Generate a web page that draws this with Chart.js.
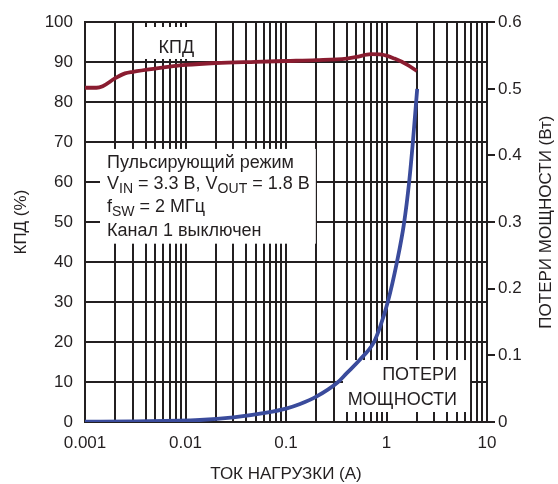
<!DOCTYPE html>
<html><head><meta charset="utf-8">
<script src="https://cdn.jsdelivr.net/npm/chart.js@4"></script>
<style>html,body{margin:0;padding:0;background:#fff}#c{display:block}</style>
</head><body><canvas id="c" width="558" height="484"></canvas>
<script>
// ---- data ----
const effCurrent = [0.001, 0.0013, 0.0015, 0.002, 0.0025, 0.003, 0.005, 0.01, 0.02, 0.05, 0.1, 0.2, 0.4, 0.5, 0.7, 0.9, 1.2, 1.6, 2.0];
const effValues  = [83.6, 83.6, 84.0, 86.0, 87.2, 87.6, 88.4, 89.3, 89.8, 90.1, 90.3, 90.5, 90.9, 91.3, 92.0, 91.9, 90.9, 89.4, 87.8];
const lossCurrent = [0.001, 0.003, 0.0139, 0.03, 0.064, 0.102, 0.138, 0.2, 0.33, 0.4, 0.54, 0.75, 0.86, 1.03, 1.27, 1.49, 1.68, 1.83, 2.02];
const lossValues  = [0.0005, 0.001, 0.003, 0.007, 0.014, 0.0205, 0.027, 0.038, 0.060, 0.073, 0.093, 0.120, 0.142, 0.180, 0.240, 0.297, 0.36, 0.42, 0.5];
const xTickLabels = ['0.001', '0.01', '0.1', '1', '10'];
const xDecades = [0.001, 0.01, 0.1, 1, 10];
const yLeftTicks = [0, 10, 20, 30, 40, 50, 60, 70, 80, 90, 100];
const yRightTicks = [0, 0.1, 0.2, 0.3, 0.4, 0.5, 0.6];

const INK = '#231f20';
const FONT = "'Liberation Sans', Arial, sans-serif";

function xyPairs(xs, ys) { return xs.map((x, i) => ({x: x, y: ys[i]})); }

function drawRuns(ctx, x, y, runs, size, align) {
  let total = 0;
  const parts = runs.map(r => {
    const s = r.sub ? size * 0.78 : size;
    ctx.font = s + 'px ' + FONT;
    const w = ctx.measureText(r.t).width;
    total += w;
    return {t: r.t, s: s, w: w, sub: r.sub};
  });
  let cx = align === 'right' ? x - total : (align === 'center' ? x - total / 2 : x);
  ctx.textAlign = 'left';
  ctx.textBaseline = 'alphabetic';
  parts.forEach(p => {
    ctx.font = p.s + 'px ' + FONT;
    ctx.fillText(p.t, cx, y + (p.sub ? size * 0.22 : 0));
    cx += p.w;
  });
}

const boxesPlugin = {
  id: 'boxes',
  beforeDatasetsDraw(chart) {
    const ctx = chart.ctx;
    const xs = chart.scales.x, yl = chart.scales.yL;
    function rect(x0, x1, y0, y1) {
      const px0 = xs.getPixelForValue(x0), px1 = xs.getPixelForValue(x1);
      const py0 = yl.getPixelForValue(y0), py1 = yl.getPixelForValue(y1);
      ctx.fillStyle = '#fff';
      ctx.fillRect(px0, py0, px1 - px0, py1 - py0);
      return {l: px0, r: px1, t: py0, b: py1};
    }
    ctx.save();
    // КПД label box
    const b1 = rect(0.0035, 0.013, 98.8, 90.8);
    ctx.fillStyle = INK;
    drawRuns(ctx, (b1.l + b1.r) / 2 + 8, b1.t + 26, [{t: 'КПД'}], 18, 'center');
    // conditions box
    const b2 = rect(0.00141, 0.198, 68.3, 44.6);
    ctx.fillStyle = INK;
    const lx = b2.l + 7, ly = b2.t + 19;
    drawRuns(ctx, lx, ly, [{t: 'Пульсирующий режим'}], 18, 'left');
    drawRuns(ctx, lx, ly + 21, [{t: 'V'}, {t: 'IN', sub: true}, {t: ' = 3.3 В, V'}, {t: 'OUT', sub: true}, {t: ' = 1.8 В'}], 18, 'left');
    drawRuns(ctx, lx, ly + 44, [{t: 'f'}, {t: 'SW', sub: true}, {t: ' = 2 МГц'}], 18, 'left');
    drawRuns(ctx, lx, ly + 68, [{t: 'Канал 1 выключен'}], 18, 'left');
    // power loss label box
    const b3 = rect(0.369, 6.78, 15.5, 2.5);
    ctx.fillStyle = INK;
    drawRuns(ctx, b3.r - 13, b3.t + 20, [{t: 'ПОТЕРИ'}], 18, 'right');
    drawRuns(ctx, b3.r - 13, b3.t + 45, [{t: 'МОЩНОСТИ'}], 18, 'right');
    ctx.restore();
  },
  afterDraw(chart) {
    const ctx = chart.ctx, a = chart.chartArea;
    ctx.save();
    ctx.fillStyle = INK;
    ctx.font = '17px ' + FONT;
    ctx.textAlign = 'center';
    ctx.textBaseline = 'alphabetic';
    ctx.fillText('ТОК НАГРУЗКИ (А)', (a.left + a.right) / 2, 479);
    ctx.translate(26, (a.top + a.bottom) / 2);
    ctx.rotate(-Math.PI / 2);
    ctx.fillText('КПД (%)', 0, 0);
    ctx.restore();
    ctx.save();
    ctx.fillStyle = INK;
    ctx.font = '17px ' + FONT;
    ctx.textAlign = 'center';
    ctx.translate(551, (a.top + a.bottom) / 2);
    ctx.rotate(-Math.PI / 2);
    ctx.fillText('ПОТЕРИ МОЩНОСТИ (Вт)', 0, 0);
    ctx.restore();
  }
};

const gridCommon = {color: INK, lineWidth: 2};

new Chart(document.getElementById('c'), {
  type: 'line',
  data: {
    datasets: [
      {label: 'КПД', data: xyPairs(effCurrent, effValues), yAxisID: 'yL',
       borderColor: '#8a1c30', borderWidth: 3.8, pointRadius: 0, cubicInterpolationMode: 'monotone', fill: false},
      {label: 'Потери', data: xyPairs(lossCurrent, lossValues), yAxisID: 'yR',
       borderColor: '#3a4b9c', borderWidth: 3.8, pointRadius: 0, cubicInterpolationMode: 'monotone', fill: false}
    ]
  },
  options: {
    responsive: false,
    animation: false,
    devicePixelRatio: 1,
    layout: {padding: {top: 21, left: 0, right: 0, bottom: 0}},
    plugins: {legend: {display: false}, tooltip: {enabled: false}},
    scales: {
      x: {
        type: 'logarithmic', position: 'bottom', min: 0.001, max: 10,
        afterBuildTicks(scale) {
          const t = [];
          for (let d = 0; d < xDecades.length - 1; d++) {
            for (let m = 1; m <= 9; m++) t.push({value: xDecades[d] * m});
          }
          t.push({value: xDecades[xDecades.length - 1]});
          scale.ticks = t;
        },
        afterFit(scale) { scale.height = 62; },
        grid: Object.assign({drawTicks: false}, gridCommon),
        border: {display: true, color: INK, width: 2},
        ticks: {
          autoSkip: false, maxRotation: 0, padding: 11, color: INK,
          font: {family: FONT, size: 17},
          callback(value) {
            const i = xDecades.findIndex(d => Math.abs(value / d - 1) < 1e-6);
            return i >= 0 ? xTickLabels[i] : '';
          }
        }
      },
      yL: {
        type: 'linear', position: 'left', min: 0, max: 100,
        afterBuildTicks(scale) { scale.ticks = yLeftTicks.map(v => ({value: v})); },
        afterFit(scale) { scale.width = 85; },
        grid: Object.assign({drawTicks: false}, gridCommon),
        border: {display: true, color: INK, width: 2},
        ticks: {padding: 12, color: INK, font: {family: FONT, size: 17}}
      },
      yR: {
        type: 'linear', position: 'right', min: 0, max: 0.6,
        afterBuildTicks(scale) { scale.ticks = yRightTicks.map(v => ({value: v})); },
        afterFit(scale) { scale.width = 71; },
        grid: {drawOnChartArea: false, drawTicks: true, tickLength: 8, color: INK, lineWidth: 2},
        border: {display: true, color: INK, width: 2},
        ticks: {padding: 3, color: INK, font: {family: FONT, size: 17},
          callback(v) { return v === 0 ? '0' : v.toFixed(1); }}
      }
    }
  },
  plugins: [boxesPlugin]
});
</script>
</body></html>
